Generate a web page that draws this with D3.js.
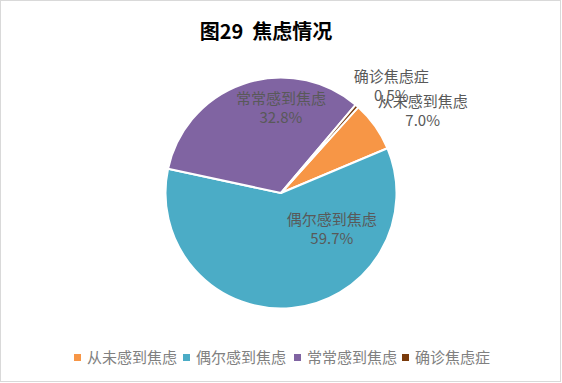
<!DOCTYPE html>
<html><head><meta charset="utf-8">
<script src="https://cdn.jsdelivr.net/npm/d3@7"></script>
<style>html,body{margin:0;padding:0;background:#fff;}</style>
</head><body>
<svg id="c" width="562" height="383"></svg>
<script>
const title = "图29  焦虑情况";
const categories = ["从未感到焦虑", "偶尔感到焦虑", "常常感到焦虑", "确诊焦虑症"];
const values = [7.0, 59.7, 32.8, 0.5];
const colors = ["#F79646", "#4BACC6", "#8064A2", "#7A3B0C"];

const svg = d3.select("#c");
const font = "'Noto Sans CJK SC', 'Noto Sans', sans-serif";
svg.append("rect").attr("x", 0.5).attr("y", 0.5).attr("width", 560).attr("height", 381)
  .attr("fill", "#fff").attr("stroke", "#d9d9d9");

svg.append("text").attr("x", 266).attr("y", 39).attr("text-anchor", "middle")
  .style("white-space", "pre")
  .attr("font-family", font).attr("font-weight", "bold").attr("font-size", 20)
  .attr("fill", "#000").text(title);

const cx = 281, cy = 193, r = 115.5;
const start = 42 * Math.PI / 180;
const pie = d3.pie().sort(null).value(d => d).startAngle(start).endAngle(start + 2 * Math.PI);
const arcs = pie(values);
const arc = d3.arc().innerRadius(0).outerRadius(r);
const g = svg.append("g").attr("transform", `translate(${cx},${cy})`);
g.selectAll("path").data(arcs).enter().append("path")
  .attr("d", arc).attr("fill", (d, i) => colors[i])
  .attr("stroke", "#fff").attr("stroke-width", 2).attr("stroke-linejoin", "round");

// data labels (label + percent), positioned by slice angle
const labelR = [1.25, 0.45, 0.78, 1.15];
const labelOffset = [[24, 2], [46, -16], [29, 0], [23, -7]];
arcs.forEach((a, i) => {
  const mid = (a.startAngle + a.endAngle) / 2;
  const x = Math.sin(mid) * r * labelR[i] + labelOffset[i][0];
  const y = -Math.cos(mid) * r * labelR[i] + labelOffset[i][1];
  const t = g.append("text").attr("text-anchor", "middle")
    .attr("font-family", font).attr("font-size", 15).attr("fill", "#595959");
  t.append("tspan").attr("x", x).attr("y", y - 4).text(categories[i]);
  t.append("tspan").attr("x", x).attr("y", y + 15).text(values[i].toFixed(1) + "%");
});

// legend
const legendX = [74, 183, 294, 402];
const lg = svg.append("g");
categories.forEach((c, i) => {
  lg.append("rect").attr("x", legendX[i]).attr("y", 354).attr("width", 7).attr("height", 7).attr("fill", colors[i]);
  lg.append("text").attr("x", legendX[i] + 13).attr("y", 363)
    .attr("font-family", font).attr("font-size", 15).attr("fill", "#808080").text(c);
});
</script>
</body></html>
